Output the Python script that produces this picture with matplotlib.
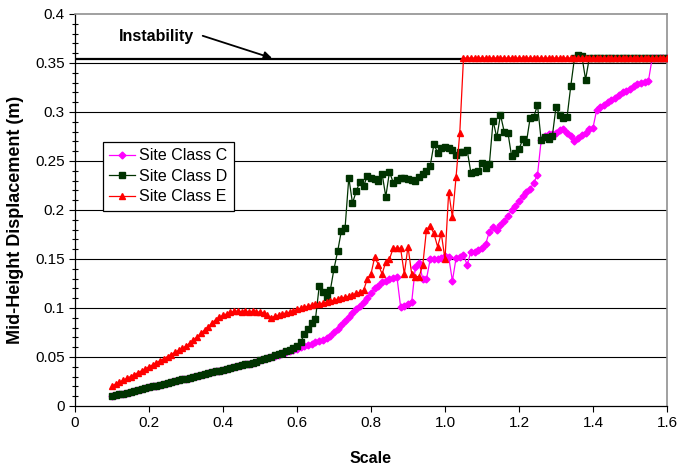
import numpy as np
import matplotlib
matplotlib.use('Agg')
import matplotlib.pyplot as plt
from matplotlib.ticker import MultipleLocator

plt.rcParams['font.family'] = ['Liberation Sans', 'DejaVu Sans']

# scale factors 0.10 ... 1.60, step 0.01
scale = np.round(np.arange(0.10, 1.605, 0.01), 2)

instability = 0.354

site_c = [
    0.0100, 0.0109, 0.0118, 0.0127, 0.0136, 0.0145, 0.0154, 0.0163, 0.0172, 0.0181,  # 0.10
    0.0190, 0.0199, 0.0208, 0.0217, 0.0226, 0.0235, 0.0244, 0.0253, 0.0262, 0.0271,  # 0.20
    0.0280, 0.0289, 0.0298, 0.0307, 0.0316, 0.0325, 0.0334, 0.0343, 0.0352, 0.0361,  # 0.30
    0.0370, 0.0379, 0.0388, 0.0397, 0.0406, 0.0415, 0.0424, 0.0433, 0.0443, 0.0453,  # 0.40
    0.0465, 0.0476, 0.0488, 0.0500, 0.0512, 0.0524, 0.0536, 0.0548, 0.0560, 0.0572,  # 0.50
    0.0585, 0.0598, 0.0611, 0.0624, 0.0637, 0.0650, 0.0663, 0.0677, 0.0692, 0.0715,  # 0.60
    0.0750, 0.0790, 0.0830, 0.0870, 0.0910, 0.0950, 0.0985, 0.1020, 0.1060, 0.1105,  # 0.70
    0.1155, 0.1200, 0.1228, 0.1260, 0.1280, 0.1296, 0.1310, 0.1320, 0.1013, 0.1020,  # 0.80
    0.1040, 0.1060, 0.1420, 0.1456, 0.1296, 0.1296, 0.1497, 0.1500, 0.1497, 0.1510,  # 0.90
    0.1530, 0.1520, 0.1276, 0.1510, 0.1520, 0.1537, 0.1440, 0.1575, 0.1575, 0.1590,  # 1.00
    0.1615, 0.1653, 0.1780, 0.1830, 0.1800, 0.1850, 0.1890, 0.1940, 0.1995, 0.2040,  # 1.10
    0.2090, 0.2140, 0.2180, 0.2210, 0.2280, 0.2357, 0.2714, 0.2755, 0.2780, 0.2780,  # 1.20
    0.2790, 0.2820, 0.2830, 0.2790, 0.2750, 0.2700, 0.2730, 0.2760, 0.2790, 0.2823,  # 1.30
    0.2840, 0.3020, 0.3054, 0.3070, 0.3100, 0.3120, 0.3140, 0.3170, 0.3200, 0.3210,  # 1.40
    0.3230, 0.3270, 0.3290, 0.3300, 0.3310, 0.3320, 0.3550, 0.3550, 0.3550, 0.3550,  # 1.50
    0.3550,                                                                          # 1.60
]

site_d = [
    0.0100, 0.0109, 0.0118, 0.0127, 0.0136, 0.0145, 0.0154, 0.0163, 0.0172, 0.0181,  # 0.10
    0.0190, 0.0199, 0.0208, 0.0217, 0.0226, 0.0235, 0.0244, 0.0253, 0.0262, 0.0271,  # 0.20
    0.0280, 0.0289, 0.0298, 0.0307, 0.0316, 0.0325, 0.0334, 0.0343, 0.0352, 0.0361,  # 0.30
    0.0370, 0.0379, 0.0388, 0.0397, 0.0406, 0.0415, 0.0424, 0.0433, 0.0443, 0.0453,  # 0.40
    0.0465, 0.0477, 0.0490, 0.0503, 0.0516, 0.0530, 0.0545, 0.0560, 0.0575, 0.0590,  # 0.50
    0.0610, 0.0656, 0.0730, 0.0790, 0.0850, 0.0890, 0.1220, 0.1160, 0.1110, 0.1180,  # 0.60
    0.1400, 0.1580, 0.1790, 0.1820, 0.2330, 0.2070, 0.2190, 0.2290, 0.2240, 0.2350,  # 0.70
    0.2330, 0.2320, 0.2300, 0.2370, 0.2136, 0.2390, 0.2280, 0.2310, 0.2330, 0.2330,  # 0.80
    0.2320, 0.2310, 0.2300, 0.2340, 0.2370, 0.2400, 0.2450, 0.2670, 0.2585, 0.2630,  # 0.90
    0.2646, 0.2630, 0.2610, 0.2560, 0.2590, 0.2590, 0.2610, 0.2380, 0.2390, 0.2400,  # 1.00
    0.2480, 0.2430, 0.2470, 0.2910, 0.2740, 0.2970, 0.2800, 0.2790, 0.2550, 0.2580,  # 1.10
    0.2620, 0.2720, 0.2690, 0.2935, 0.2950, 0.3070, 0.2710, 0.2740, 0.2720, 0.2750,  # 1.20
    0.3050, 0.2970, 0.2940, 0.2950, 0.3265, 0.3550, 0.3580, 0.3570, 0.3330, 0.3550,  # 1.30
    0.3550, 0.3550, 0.3550, 0.3550, 0.3550, 0.3550, 0.3550, 0.3550, 0.3550, 0.3550,  # 1.40
    0.3550, 0.3550, 0.3550, 0.3550, 0.3550, 0.3550, 0.3550, 0.3550, 0.3550, 0.3550,  # 1.50
    0.3550,                                                                          # 1.60
]

site_e = [
    0.0205, 0.0224, 0.0243, 0.0262, 0.0281, 0.0300, 0.0319, 0.0339, 0.0359, 0.0379,  # 0.10
    0.0399, 0.0420, 0.0441, 0.0462, 0.0483, 0.0504, 0.0525, 0.0546, 0.0567, 0.0588,  # 0.20
    0.0610, 0.0640, 0.0672, 0.0705, 0.0740, 0.0775, 0.0810, 0.0845, 0.0880, 0.0905,  # 0.30
    0.0925, 0.0940, 0.0955, 0.0965, 0.0970, 0.0962, 0.0968, 0.0960, 0.0966, 0.0958,  # 0.40
    0.0960, 0.0950, 0.0925, 0.0900, 0.0915, 0.0928, 0.0940, 0.0948, 0.0955, 0.0965,  # 0.50
    0.0985, 0.0995, 0.1005, 0.1020, 0.1030, 0.1037, 0.1040, 0.1050, 0.1060, 0.1070,  # 0.60
    0.1080, 0.1090, 0.1100, 0.1110, 0.1120, 0.1130, 0.1150, 0.1160, 0.1180, 0.1296,  # 0.70
    0.1347, 0.1520, 0.1440, 0.1347, 0.1470, 0.1500, 0.1610, 0.1610, 0.1610, 0.1347,  # 0.80
    0.1626, 0.1347, 0.1320, 0.1320, 0.1440, 0.1800, 0.1837, 0.1760, 0.1626, 0.1760,  # 0.90
    0.1497, 0.2187, 0.1925, 0.2340, 0.2790, 0.3550, 0.3550, 0.3550, 0.3550, 0.3550,  # 1.00
    0.3550, 0.3550, 0.3550, 0.3550, 0.3550, 0.3550, 0.3550, 0.3550, 0.3550, 0.3550,  # 1.10
    0.3550, 0.3550, 0.3550, 0.3550, 0.3550, 0.3550, 0.3550, 0.3550, 0.3550, 0.3550,  # 1.20
    0.3550, 0.3550, 0.3550, 0.3550, 0.3550, 0.3550, 0.3550, 0.3550, 0.3550, 0.3550,  # 1.30
    0.3550, 0.3550, 0.3550, 0.3550, 0.3550, 0.3550, 0.3550, 0.3550, 0.3550, 0.3550,  # 1.40
    0.3550, 0.3550, 0.3550, 0.3550, 0.3550, 0.3550, 0.3550, 0.3550, 0.3550, 0.3550,  # 1.50
    0.3550,                                                                          # 1.60
]

x_ticks = [0, 0.2, 0.4, 0.6, 0.8, 1.0, 1.2, 1.4, 1.6]
x_labels = ['0', '0.2', '0.4', '0.6', '0.8', '1.0', '1.2', '1.4', '1.6']
y_ticks = [0, 0.05, 0.1, 0.15, 0.2, 0.25, 0.3, 0.35, 0.4]
y_labels = ['0', '0.05', '0.1', '0.15', '0.2', '0.25', '0.3', '0.35', '0.4']

fig = plt.figure(figsize=(6.77, 4.66), dpi=100)
ax = fig.add_axes([0.1108, 0.1288, 0.8744, 0.8412])

# horizontal gridlines
for y in y_ticks[1:-1]:
    ax.axhline(y, color='black', lw=0.8, zorder=1)

ax.plot([0, 1.6], [instability, instability], color='black', lw=1.6, zorder=2)

ax.plot(scale, site_c, color='#FF00FF', lw=0.9, marker='D', ms=3.5,
        label='Site Class C', zorder=3)
ax.plot(scale, site_d, color='#003300', lw=0.9, marker='s', ms=4.5,
        label='Site Class D', zorder=4)
ax.plot(scale, site_e, color='#FF0000', lw=0.9, marker='^', ms=4.5,
        label='Site Class E', zorder=5)

ax.set_xlim(0, 1.6)
ax.set_ylim(0, 0.4)
ax.set_xticks(x_ticks)
ax.set_xticklabels(x_labels)
ax.set_yticks(y_ticks)
ax.set_yticklabels(y_labels)
ax.yaxis.set_minor_locator(MultipleLocator(0.01))
ax.tick_params(axis='both', which='major', direction='out', length=4, width=0.8,
               labelsize=11, colors='black')
ax.tick_params(axis='y', which='minor', direction='inout', length=4, width=0.8)
ax.tick_params(axis='x', pad=3)

for side in ['top', 'right']:
    ax.spines[side].set_color('#909090')
    ax.spines[side].set_linewidth(1.2)
for side in ['left', 'bottom']:
    ax.spines[side].set_color('black')
    ax.spines[side].set_linewidth(0.9)

ax.set_xlabel('Scale', fontsize=11.5, fontweight='bold', labelpad=15)
ax.set_ylabel('Mid-Height Displacement (m)', fontsize=13, fontweight='bold')
ax.yaxis.set_label_coords(-0.086, 0.474)

ax.text(0.219, 0.3775, 'Instability', fontsize=11.5, fontweight='bold',
        ha='center', va='center')
ax.annotate('', xy=(0.54, instability), xytext=(0.338, 0.3786),
            arrowprops=dict(arrowstyle='-|>', color='black', lw=1.3,
                            mutation_scale=12))

leg = ax.legend(loc='lower left', bbox_to_anchor=(0.0468, 0.498),
                fontsize=11.5, frameon=True, fancybox=False, handlelength=1.6,
                handletextpad=0.3, borderpad=0.4, labelspacing=0.35,
                borderaxespad=0)
leg.get_frame().set_edgecolor('black')
leg.get_frame().set_linewidth(0.9)
leg.get_frame().set_alpha(1)

fig.savefig('out.png', dpi=100)
